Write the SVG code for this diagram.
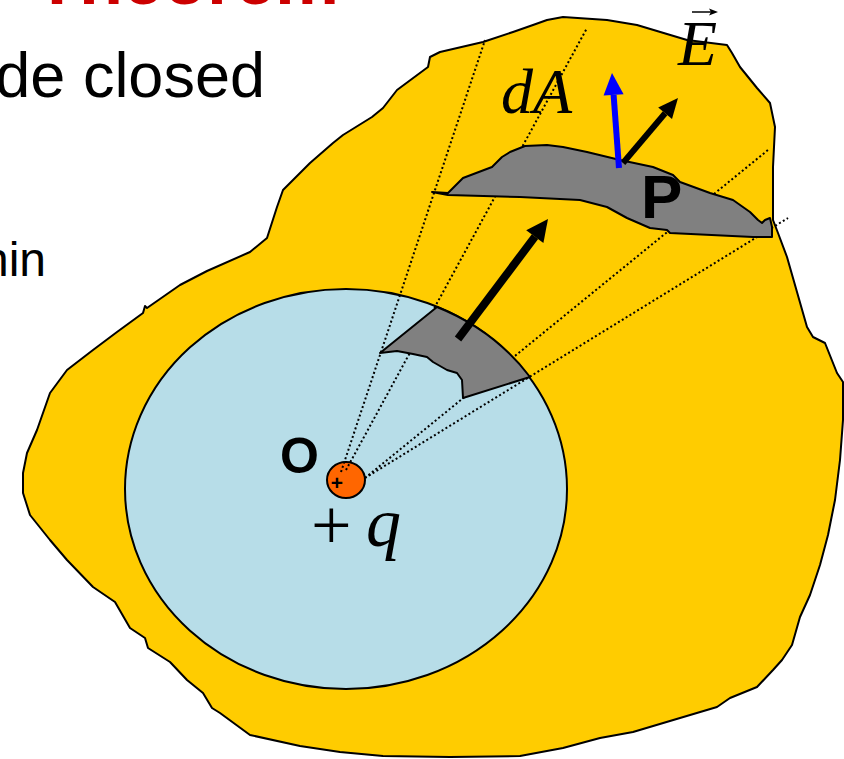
<svg xmlns="http://www.w3.org/2000/svg" width="844" height="759" viewBox="0 0 844 759">
<style>
.outline{stroke:#000;stroke-width:2;stroke-linejoin:round}
.dot{fill:none;stroke:#000;stroke-width:2;stroke-dasharray:2 2.5}
.sans{font-family:"Liberation Sans",Arial,sans-serif}
.serif{font-family:"Liberation Serif","Times New Roman",serif;font-style:italic}
</style>
<rect width="844" height="759" fill="#fff"/>
<g id="slide-text">
<text class="sans" x="35" y="3.5" font-size="72" font-weight="bold" fill="#CC0000">Theorem</text>
<text class="sans" x="265" y="97" font-size="63" text-anchor="end" fill="#000">de closed</text>
<text class="sans" x="46" y="276" font-size="48" text-anchor="end" fill="#000">hin</text>
</g>
<g id="surface">
<path class="outline" fill="#FFCC00" d="M430,57 L440,52 L483,42 L513,32 L533,25 L547,20 L563,17 L607,20 L637,25 L687,40 L727,45 L732,53 L740,67 L757,88 L770,103 L775,127 L773,167 L773,220 L778,233 L787,257 L797,292 L807,327 L813,337 L825,343 L837,373 L843,382 L843,420 L840,460 L835,500 L828,535 L820,565 L810,595 L800,617 L792,645 L782,660 L773,670 L757,687 L730,698 L717,707 L680,718 L633,732 L600,738 L563,748 L520,756 L450,757 L383,756 L340,752 L300,746 L250,735 L220,713 L212,708 L203,693 L187,680 L170,662 L148,648 L145,638 L130,628 L115,602 L93,587 L67,560 L50,540 L30,515 L23,493 L23,473 L27,453 L37,430 L50,393 L67,370 L93,350 L117,332 L143,313 L145,306 L147,308 L180,285 L207,271 L250,252 L267,238 L277,207 L283,190 L310,163 L333,143 L343,135 L372,117 L383,108 L397,90 L428,67 Z"/>
</g>
<g id="sphere">
<ellipse class="outline" cx="346" cy="489" rx="221" ry="200" fill="#B7DDE8"/>
</g>
<g id="charge">
<ellipse class="outline" cx="346" cy="480" rx="19" ry="18" fill="#FF6600"/>
<text class="sans" x="337" y="490" font-size="21" font-weight="bold" text-anchor="middle" fill="#000">+</text>
</g>
<g id="connectors">
<line class="dot" x1="341" y1="472" x2="485" y2="40"/>
<line class="dot" x1="346" y1="470" x2="587" y2="28"/>
<line class="dot" x1="365" y1="478" x2="768" y2="150"/>
<line class="dot" x1="365" y1="478" x2="788" y2="218"/>
</g>
<g id="inner-patch">
<path class="outline" fill="#808080" d="M380,353 L437,307 A221,200 0 0,1 530,377 L463,398 L462,380 L457,373 L447,370 L433,362 L427,357 L413,354 L397,351 Z"/>
</g>
<g id="outer-patch">
<path class="outline" fill="#808080" d="M432,192 L448,193 L463,178 L492,167 L502,157 L510,152 L525,146 L547,145 L563,147 L587,152 L620,160 L653,167 L673,175 L680,182 L710,193 L733,200 L750,212 L758,220 L762,223 L765,220 L770,218 L772,227 L772,237 L753,237 L670,233 L667,230 L650,228 L627,218 L607,207 L580,200 L520,197 L448,195 Z"/>
</g>
<g id="arrow-inner">
<line x1="458" y1="339" x2="535" y2="236.6" stroke="#000" stroke-width="8"/>
<polygon points="548,219 543.4,243 526.2,230.2" fill="#000"/>
</g>
<g id="arrow-E">
<line x1="623" y1="163" x2="665.1" y2="113.3" stroke="#000" stroke-width="6"/>
<polygon points="678,98 672,119.1 658.2,107.5" fill="#000"/>
</g>
<g id="arrow-dA">
<line x1="619" y1="168" x2="613.6" y2="94.9" stroke="#0000FF" stroke-width="6"/>
<polygon points="612,73 623.6,94.2 603.6,95.6" fill="#0000FF"/>
</g>
<g id="labels">
<text class="sans" x="280" y="473" font-size="50" font-weight="bold" fill="#000">O</text>
<text class="sans" x="641" y="218" font-size="62" font-weight="bold" fill="#000">P</text>
<text class="serif" x="501" y="113" font-size="64" fill="#000">dA</text>
<text class="serif" x="678" y="65" font-size="64" fill="#000">E</text>
<line x1="692" y1="12" x2="711" y2="12" stroke="#000" stroke-width="1.5"/>
<polygon points="718,12 709,8.5 711,12 709,15.5" fill="#000"/>
<text x="311" y="549" font-size="72" font-family="'Liberation Serif','Times New Roman',serif" fill="#000">+</text>
<text class="serif" x="366" y="546" font-size="70" fill="#000">q</text>
</g>
</svg>
